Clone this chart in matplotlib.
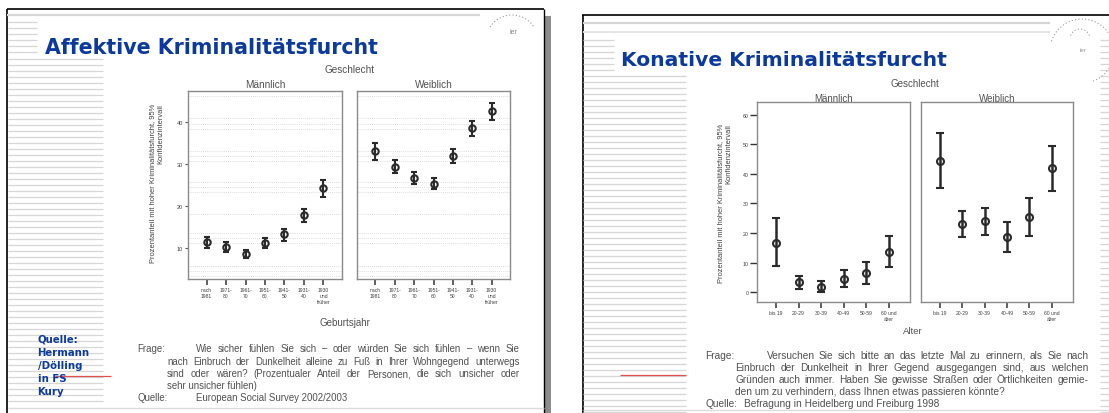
import numpy as np
import matplotlib
matplotlib.use("Agg")
import matplotlib.pyplot as plt
from matplotlib.patches import Rectangle

# ---------------- data ----------------
birth_cats = ["nach\n1981", "1971-\n80", "1961-\n70", "1951-\n60", "1941-\n50", "1931-\n40", "1930\nund\nfrüher"]
aff_m_mean = [11.3, 10.2, 8.6, 11.1, 13.2, 17.7, 24.3]
aff_m_lo = [9.9, 9.0, 7.6, 9.9, 11.7, 16.1, 22.2]
aff_m_hi = [12.7, 11.3, 9.6, 12.3, 14.5, 19.3, 26.2]
aff_w_mean = [33.0, 29.3, 26.6, 25.2, 31.9, 38.5, 42.5]
aff_w_lo = [30.9, 27.7, 25.2, 23.9, 30.2, 36.7, 40.4]
aff_w_hi = [34.9, 30.9, 28.0, 26.5, 33.4, 40.2, 44.4]
aff_yticks = [10, 20, 30, 40]

age_cats = ["bis 19", "20-29", "30-39", "40-49", "50-59", "60 und\nälter"]
kon_m_mean = [16.7, 3.4, 1.9, 4.5, 6.5, 13.7]
kon_m_lo = [8.8, 1.0, 0.0, 1.7, 2.7, 8.4]
kon_m_hi = [25.1, 5.6, 3.9, 7.5, 10.1, 19.1]
kon_w_mean = [44.5, 22.9, 24.0, 18.8, 25.5, 41.9]
kon_w_lo = [35.2, 18.7, 19.5, 13.7, 18.9, 34.2]
kon_w_hi = [53.7, 27.3, 28.4, 23.9, 31.9, 49.3]
kon_yticks = [0, 10, 20, 30, 40, 50, 60]

panel_titles = ["Männlich", "Weiblich"]
ylabel_text = "Prozentanteil mit hoher Kriminalitätsfurcht, 95%\nKonfidenzintervall"

# ---------------- figure ----------------
W, H = 1109, 414
fig = plt.figure(figsize=(W / 100, H / 100), dpi=100)
fig.patch.set_facecolor("white")
bg = fig.add_axes([0, 0, 1, 1])
bg.set_xlim(0, W)
bg.set_ylim(H, 0)
bg.axis("off")
r = fig.canvas.get_renderer()

STRIPE = "#d6d6d6"
BLUE = "#0b3a9c"
GRAY_TXT = "#505050"
AR = "Liberation Sans"


def hline(x0, x1, y, **kw):
    bg.plot([x0, x1], [y, y], solid_capstyle="butt", **kw)


def vline(x, y0, y1, **kw):
    bg.plot([x, x], [y0, y1], solid_capstyle="butt", **kw)


def stripes(x0, x1, y0, y1, step=6.0):
    for y in np.arange(y0, y1, step):
        hline(x0, x1, y, color=STRIPE, lw=0.9)


def fit_size(s, width, **kw):
    t = bg.text(0, 0, s, **kw)
    w = t.get_window_extent(r).width
    fs = t.get_fontsize() * width / w
    t.remove()
    return fs


def fit_text(x, y, s, width, **kw):
    t = bg.text(x, y, s, **kw)
    w = t.get_window_extent(r).width
    t.set_fontsize(t.get_fontsize() * width / w)
    return t


def justify(x0, x1, y, s, **kw):
    words = s.split(" ")
    ts = [bg.text(0, y, w, **kw) for w in words]
    ws = [t.get_window_extent(r).width for t in ts]
    gap = (x1 - x0 - sum(ws)) / (len(ws) - 1)
    x = x0
    for t, w in zip(ts, ws):
        t.set_x(x)
        x += w + gap


def dotted_arc(cx, cy, rad, a0, a1):
    t = np.radians(np.linspace(a0, a1, 60))
    bg.plot(cx + rad * np.cos(t), cy - rad * np.sin(t), ls=(0, (1, 2)), color="#9a9a9a", lw=0.8)


# ---------------- left slide decoration ----------------
hline(7, 544, 10, color="black", lw=1.2)
vline(7, 10, 414, color="black", lw=1.2)
vline(544, 10, 414, color="black", lw=1.0)
bg.add_patch(Rectangle((545, 17), 6, 400, color="#8c8c8c", lw=0))
hline(7, 480, 16, color=STRIPE, lw=1.6)
stripes(8, 37, 23, 57)
stripes(8, 103, 60, 408)
hline(8, 544, 409, color="#dcdcdc", lw=1.0)
hline(55, 111, 377, color="#e05050", lw=0.9)
dotted_arc(512, 42, 26, 35, 150)
bg.text(513, 33, "ier", fontsize=5, color="#8a8a8a", family=AR, ha="center", va="center")

fit_text(45, 53.5, "Affektive Kriminalitätsfurcht", 334, family="DejaVu Sans",
         weight="bold", color=BLUE, fontsize=14, va="baseline")
for i, s in enumerate(["Quelle:", "Hermann", "/Dölling", "in FS", "Kury"]):
    bg.text(37.5, 339.5 + i * 13.1, s, fontsize=7.3, family="DejaVu Sans", weight="bold",
            color=BLUE, va="center")

fs1 = fit_size("nach Einbruch der Dunkelheit alleine zu Fuß in Ihrer Wohngegend unterwegs",
               330, family=AR, fontsize=7)
fk = dict(family=AR, fontsize=fs1, color=GRAY_TXT, va="center")
bg.text(137.5, 348.6, "Frage:", **fk)
justify(196, 519.5, 348.6, "Wie sicher fühlen Sie sich – oder würden Sie sich fühlen – wenn Sie", **fk)
justify(167, 519.5, 361.6, "nach Einbruch der Dunkelheit alleine zu Fuß in Ihrer Wohngegend unterwegs", **fk)
justify(167, 519.5, 374.4, "sind oder wären? (Prozentualer Anteil der Personen, die sich unsicher oder", **fk)
bg.text(167, 386.0, "sehr unsicher fühlen)", **fk)
bg.text(137.5, 398.0, "Quelle:", **fk)
bg.text(196, 398.0, "European Social Survey 2002/2003", **fk)

# ---------------- right slide decoration ----------------
hline(582, W, 15.7, color="black", lw=1.2)
vline(582.5, 15.7, 414, color="black", lw=1.2)
hline(583, 1050, 24, color=STRIPE, lw=1.6)
hline(583, 1050, 33, color="#e4e4e4", lw=1.4)
stripes(583, 614, 41, 73)
stripes(583, 686, 77, 414)
stripes(1100, W, 41, 414)
hline(583, W, 411, color="#dcdcdc", lw=1.0)
hline(620, 686, 376, color="#e05050", lw=0.9)
dotted_arc(1082, 52, 32, -70, 165)
dotted_arc(1080, 40, 10, 20, 170)
bg.text(1083, 50, "ier", fontsize=4.5, color="#9a9a9a", family=AR, ha="center", va="center")

fit_text(621, 66, "Konative Kriminalitätsfurcht", 326, family="DejaVu Sans",
         weight="bold", color=BLUE, fontsize=14, va="baseline")

fs2 = fit_size("Einbruch der Dunkelheit in Ihrer Gegend ausgegangen sind, aus welchen",
               330, family=AR, fontsize=7)
fk2 = dict(family=AR, fontsize=fs2, color=GRAY_TXT, va="center")
bg.text(705, 356, "Frage:", **fk2)
justify(766.5, 1088.5, 356, "Versuchen Sie sich bitte an das letzte Mal zu erinnern, als Sie nach", **fk2)
justify(735, 1088.5, 368, "Einbruch der Dunkelheit in Ihrer Gegend ausgegangen sind, aus welchen", **fk2)
justify(735, 1088.5, 380, "Gründen auch immer. Haben Sie gewisse Straßen oder Örtlichkeiten gemie-", **fk2)
bg.text(735, 392, "den um zu verhindern, dass Ihnen etwas passieren könnte?", **fk2)
bg.text(705, 404, "Quelle:", **fk2)
bg.text(744, 404, "Befragung in Heidelberg und Freiburg 1998", **fk2)

# ---------------- chart helpers ----------------
def panel(x0, y0, x1, y1):
    ax = fig.add_axes([x0 / W, 1 - y1 / H, (x1 - x0) / W, (y1 - y0) / H])
    ax.set_facecolor("none")
    for sp in ax.spines.values():
        sp.set_color("#8a8a8a")
        sp.set_linewidth(1.0)
    return ax


def draw_errors(ax, cats, mean, lo, hi, lw, cap, ms):
    x = np.arange(len(cats))
    m = np.array(mean)
    ax.errorbar(x, m, yerr=[m - np.array(lo), np.array(hi) - m], fmt="o", mfc="none",
                mec="#2a2a2a", mew=1.5, ms=ms, ecolor="#2a2a2a", elinewidth=lw,
                capsize=cap, capthick=lw, zorder=3)
    ax.set_xticks(x)
    ax.set_xticklabels(cats, fontsize=3.6, family=AR, color="#404040", linespacing=1.25)
    ax.tick_params(axis="x", length=4, width=1.1, color="#333333", pad=1.5)


# ---------------- left chart ----------------
grid_vals = [3.4, 4.6, 5.8, 11.2, 12.4, 13.6, 18.1, 23.2, 24.4, 25.6, 30.7, 31.9, 33.1,
             38.3, 39.5, 40.8, 46.0]
aff_panels = [(188, 92, 342, 280), (357, 92, 510, 280)]
aff_data = [(aff_m_mean, aff_m_lo, aff_m_hi), (aff_w_mean, aff_w_lo, aff_w_hi)]
for k, (box, (mn, lo, hi)) in enumerate(zip(aff_panels, aff_data)):
    ax = panel(*box)
    for g in grid_vals:
        ax.axhline(g, color="#d0d0d0", lw=0.6, ls=(0, (1, 1.5)), zorder=1)
    draw_errors(ax, birth_cats, mn, lo, hi, lw=1.5, cap=2.4, ms=4.6)
    ax.set_xlim(-0.95, 6.95)
    ax.set_ylim(2.6, 47.3)
    if k == 0:
        ax.set_yticks(aff_yticks)
        ax.set_yticklabels([str(v) for v in aff_yticks], fontsize=4, family=AR, color="#404040")
        ax.tick_params(axis="y", length=2.5, width=0.8, color="#555555", pad=1)
    else:
        ax.set_yticks([])
    bg.text((box[0] + box[2]) / 2, 85, panel_titles[k], fontsize=7.2, family=AR,
            color=GRAY_TXT, ha="center", va="center")
bg.text(350, 70, "Geschlecht", fontsize=7.2, family=AR, color=GRAY_TXT, ha="center", va="center")
bg.text(344.5, 323.5, "Geburtsjahr", fontsize=7.0, family=AR, color=GRAY_TXT, ha="center", va="center")
bg.text(156.5, 263, ylabel_text, rotation=90, fontsize=5.4, family=AR, color="#404040",
        ha="center", va="bottom", multialignment="right", linespacing=1.2)

# ---------------- right chart ----------------
kon_panels = [(757, 103, 910, 303), (921, 103, 1073, 303)]
kon_data = [(kon_m_mean, kon_m_lo, kon_m_hi), (kon_w_mean, kon_w_lo, kon_w_hi)]
for k, (box, (mn, lo, hi)) in enumerate(zip(kon_panels, kon_data)):
    ax = panel(*box)
    draw_errors(ax, age_cats, mn, lo, hi, lw=1.8, cap=2.8, ms=5.0)
    ax.set_xlim(-0.85, 5.95)
    ax.set_ylim(-3.3, 64.3)
    if k == 0:
        ax.set_yticks(kon_yticks)
        ax.set_yticklabels([str(v) for v in kon_yticks], fontsize=3.8, family=AR, color="#404040")
        ax.tick_params(axis="y", length=5, width=1.0, color="#333333", pad=1)
    else:
        ax.set_yticks([])
    bg.text((box[0] + box[2]) / 2, 99.5, panel_titles[k], fontsize=7.0, family=AR,
            color=GRAY_TXT, ha="center", va="center")
bg.text(915, 84, "Geschlecht", fontsize=7.0, family=AR, color=GRAY_TXT, ha="center", va="center")
bg.text(913, 331.5, "Alter", fontsize=6.8, family=AR, color=GRAY_TXT, ha="center", va="center")
bg.text(725, 283, ylabel_text, rotation=90, fontsize=5.4, family=AR, color="#404040",
        ha="center", va="bottom", multialignment="right", linespacing=1.2)

fig.savefig("out.png", dpi=100, facecolor="white")
